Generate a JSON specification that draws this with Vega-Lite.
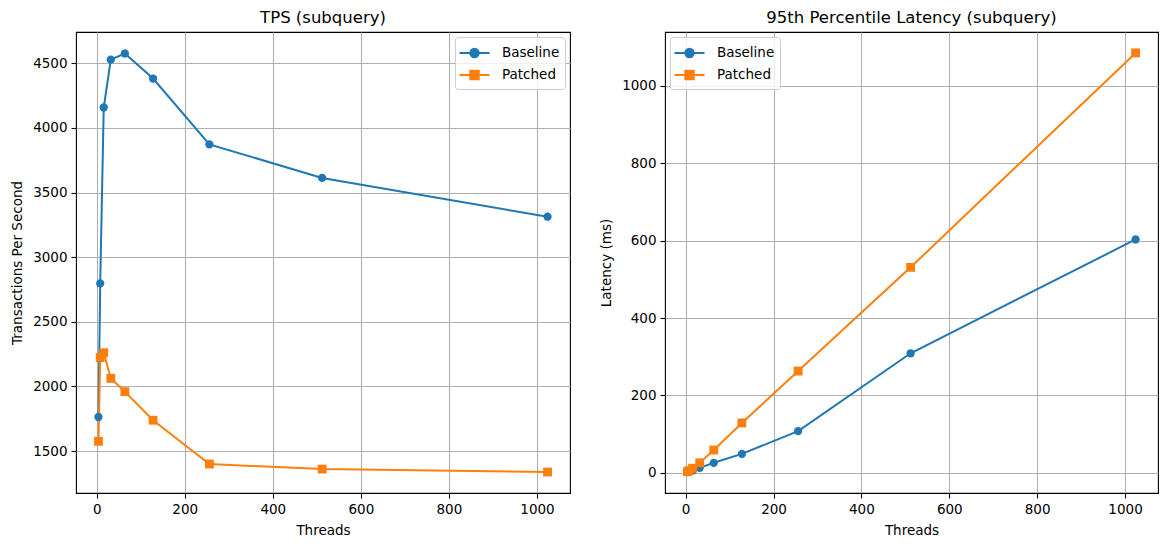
{
  "$schema": "https://vega.github.io/schema/vega-lite/v6.json",
  "padding": {"left": 10, "top": 8, "right": 7, "bottom": 5},
  "background": "white",
  "spacing": 28,
  "datasets": {
    "tps": [
      {"series": "Baseline", "threads": 4, "value": 1764},
      {"series": "Baseline", "threads": 8, "value": 2797},
      {"series": "Baseline", "threads": 16, "value": 4158},
      {"series": "Baseline", "threads": 32, "value": 4528},
      {"series": "Baseline", "threads": 64, "value": 4576},
      {"series": "Baseline", "threads": 128, "value": 4382},
      {"series": "Baseline", "threads": 256, "value": 3873},
      {"series": "Baseline", "threads": 512, "value": 3613},
      {"series": "Baseline", "threads": 1024, "value": 3313},
      {"series": "Patched", "threads": 4, "value": 1576},
      {"series": "Patched", "threads": 8, "value": 2223},
      {"series": "Patched", "threads": 16, "value": 2261},
      {"series": "Patched", "threads": 32, "value": 2063},
      {"series": "Patched", "threads": 64, "value": 1960},
      {"series": "Patched", "threads": 128, "value": 1739},
      {"series": "Patched", "threads": 256, "value": 1400},
      {"series": "Patched", "threads": 512, "value": 1361},
      {"series": "Patched", "threads": 1024, "value": 1338}
    ],
    "lat": [
      {"series": "Baseline", "threads": 4, "value": 2},
      {"series": "Baseline", "threads": 8, "value": 3},
      {"series": "Baseline", "threads": 16, "value": 6},
      {"series": "Baseline", "threads": 32, "value": 13},
      {"series": "Baseline", "threads": 64, "value": 26},
      {"series": "Baseline", "threads": 128, "value": 49},
      {"series": "Baseline", "threads": 256, "value": 108},
      {"series": "Baseline", "threads": 512, "value": 309},
      {"series": "Baseline", "threads": 1024, "value": 603},
      {"series": "Patched", "threads": 4, "value": 3},
      {"series": "Patched", "threads": 8, "value": 6},
      {"series": "Patched", "threads": 16, "value": 12},
      {"series": "Patched", "threads": 32, "value": 26},
      {"series": "Patched", "threads": 64, "value": 59},
      {"series": "Patched", "threads": 128, "value": 129},
      {"series": "Patched", "threads": 256, "value": 263},
      {"series": "Patched", "threads": 512, "value": 531},
      {"series": "Patched", "threads": 1024, "value": 1085}
    ]
  },
  "config": {
    "font": "DejaVu Sans",
    "view": {"stroke": "black", "strokeWidth": 1.1},
    "title": {"fontSize": 16.5, "fontWeight": "normal", "font": "DejaVu Sans", "offset": 6, "color": "black"},
    "axis": {
      "domain": false,
      "grid": true,
      "gridColor": "#b0b0b0",
      "gridWidth": 1.1,
      "tickColor": "black",
      "tickSize": 5,
      "tickWidth": 1.1,
      "labelFontSize": 13.5,
      "labelColor": "black",
      "labelPadding": 4,
      "titleFontSize": 13.5,
      "titleFontWeight": "normal",
      "titleColor": "black",
      "titlePadding": 8,
      "format": "d"
    },
    "legend": {
      "title": null,
      "offset": 5,
      "padding": 5,
      "strokeColor": "#cccccc",
      "fillColor": "rgba(255,255,255,0.8)",
      "cornerRadius": 3,
      "labelFontSize": 13.5,
      "labelColor": "black",
      "symbolSize": 400,
      "rowPadding": 2,
      "labelOffset": 20
    }
  },
  "hconcat": [
    {
      "title": "TPS (subquery)",
      "width": 494,
      "height": 461,
      "data": {"name": "tps"},
      "encoding": {
        "x": {"field": "threads", "type": "quantitative", "title": "Threads", "scale": {"domain": [-47, 1075], "nice": false, "zero": false}, "axis": {"values": [0, 200, 400, 600, 800, 1000], "format": "d"}},
        "y": {"field": "value", "type": "quantitative", "title": "Transactions Per Second", "scale": {"domain": [1176, 4742], "nice": false, "zero": false}, "axis": {"values": [1500, 2000, 2500, 3000, 3500, 4000, 4500], "format": "d"}},
        "color": {"field": "series", "type": "nominal", "scale": {"domain": ["Baseline", "Patched"], "range": ["#1f77b4", "#ff7f0e"]}, "legend": {"orient": "top-right", "encode": {"symbols": {"update": {"shape": {"signal": "datum.value === 'Baseline' ? 'M-1.15,0L1.85,0M0.77,0A0.42,0.42,0,1,1,-0.07,0A0.42,0.42,0,1,1,0.77,0Z' : 'M-1.15,0L1.85,0M-0.07,-0.42L0.77,-0.42L0.77,0.42L-0.07,0.42Z'"}, "stroke": {"signal": "datum.value === 'Baseline' ? '#1f77b4' : '#ff7f0e'"}, "fill": {"signal": "datum.value === 'Baseline' ? '#1f77b4' : '#ff7f0e'"}, "strokeWidth": {"value": 2}, "opacity": {"value": 1}}}}}}
      },
      "layer": [
        {"mark": {"type": "line", "strokeWidth": 2}},
        {"mark": {"type": "point", "filled": true, "opacity": 1}, "encoding": {
          "shape": {"field": "series", "type": "nominal", "scale": {"domain": ["Baseline", "Patched"], "range": ["circle", "square"]}, "legend": null},
          "size": {"condition": {"test": "datum.series === 'Patched'", "value": 78}, "value": 68}
        }}
      ]
    },
    {
      "title": "95th Percentile Latency (subquery)",
      "width": 493,
      "height": 461,
      "data": {"name": "lat"},
      "encoding": {
        "x": {"field": "threads", "type": "quantitative", "title": "Threads", "scale": {"domain": [-47, 1075], "nice": false, "zero": false}, "axis": {"values": [0, 200, 400, 600, 800, 1000], "format": "d"}},
        "y": {"field": "value", "type": "quantitative", "title": "Latency (ms)", "scale": {"domain": [-52, 1139], "nice": false, "zero": false}, "axis": {"values": [0, 200, 400, 600, 800, 1000], "format": "d"}},
        "color": {"field": "series", "type": "nominal", "scale": {"domain": ["Baseline", "Patched"], "range": ["#1f77b4", "#ff7f0e"]}, "legend": {"orient": "top-left", "encode": {"symbols": {"update": {"shape": {"signal": "datum.value === 'Baseline' ? 'M-1.15,0L1.85,0M0.77,0A0.42,0.42,0,1,1,-0.07,0A0.42,0.42,0,1,1,0.77,0Z' : 'M-1.15,0L1.85,0M-0.07,-0.42L0.77,-0.42L0.77,0.42L-0.07,0.42Z'"}, "stroke": {"signal": "datum.value === 'Baseline' ? '#1f77b4' : '#ff7f0e'"}, "fill": {"signal": "datum.value === 'Baseline' ? '#1f77b4' : '#ff7f0e'"}, "strokeWidth": {"value": 2}, "opacity": {"value": 1}}}}}}
      },
      "layer": [
        {"mark": {"type": "line", "strokeWidth": 2}},
        {"mark": {"type": "point", "filled": true, "opacity": 1}, "encoding": {
          "shape": {"field": "series", "type": "nominal", "scale": {"domain": ["Baseline", "Patched"], "range": ["circle", "square"]}, "legend": null},
          "size": {"condition": {"test": "datum.series === 'Patched'", "value": 78}, "value": 68}
        }}
      ]
    }
  ],
  "resolve": {"scale": {"y": "independent", "color": "independent"}, "legend": {"color": "independent"}}
}
